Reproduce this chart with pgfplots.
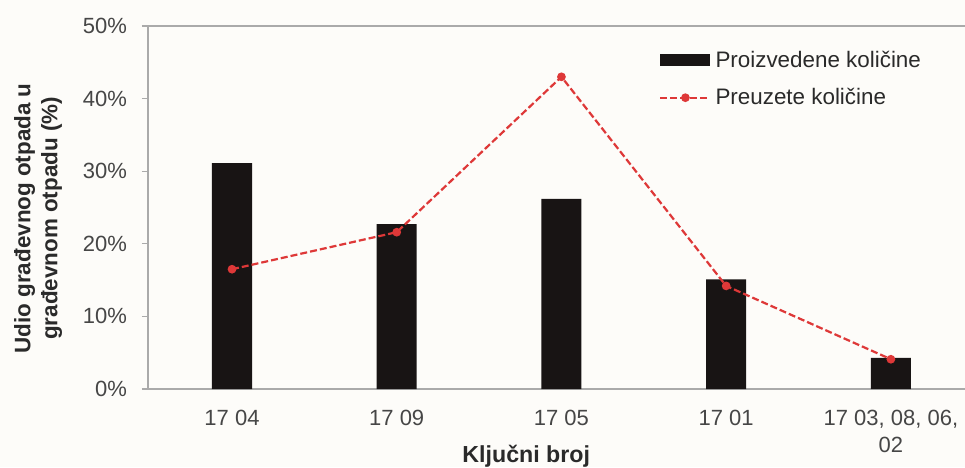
\documentclass[border=0pt]{standalone}
\usepackage{fontspec}
\setmainfont{Liberation Sans}
\usepackage{pgfplots}
\pgfplotsset{compat=1.18}

\definecolor{bg}{RGB}{253,252,249}
\definecolor{barcol}{RGB}{24,20,20}
\definecolor{linecol}{RGB}{222,56,56}
\definecolor{axgray}{RGB}{170,170,170}
\definecolor{txtgray}{RGB}{70,70,70}

\pgfplotsset{
    barlegend/.style={legend image code/.code={\fill[barcol] (0pt,-3pt) rectangle (25pt,3pt);}},
    linelegend/.style={legend image code/.code={\draw[mark repeat=2,mark phase=2,##1] plot coordinates {(0pt,0pt) (12.5pt,0pt) (25pt,0pt)};}},
}

\begin{document}
\begin{tikzpicture}
\fill[bg] (-74pt,-39pt) rectangle (408.5pt,194.5pt);
\begin{axis}[
    at={(0pt,0pt)}, anchor=south west,
    scale only axis,
    width=408.5pt, height=181.5pt,
    xmin=-0.51, xmax=4.45,
    ymin=0, ymax=50,
    axis lines*=left,
    axis line style={draw=none},
    xtick=data,
    xticklabels={17 04, 17 09, 17 05, 17 01, {17 03, 08, 06,\\02}},
    xticklabel style={align=center, font=\fontsize{11}{13.5}\selectfont, text=txtgray, yshift=-4pt},
    major x tick style={draw=none},
    ytick={0,10,...,50},
    yticklabel={\pgfmathprintnumber{\tick}\%},
    yticklabel style={font=\fontsize{11}{13}\selectfont, text=txtgray, xshift=-4pt},
    /pgf/number format/assume math mode=true,
    tick align=outside,
    major tick length=3pt,
    tick style={axgray, line width=0.6pt},
    xlabel={\textbf{Ključni broj}},
    xlabel style={at={(axis description cs:0.463,0)}, anchor=south, yshift=-42.5pt, font=\fontsize{11.6}{13}\selectfont, text=txtgray!60!black},
    ylabel={\textbf{Udio građevnog otpada u}\\\textbf{građevnom otpadu (\%)}},
    ylabel style={at={(axis description cs:-0.1346,0.47)}, anchor=center, align=center, font=\fontsize{11.2}{13.5}\selectfont, text=txtgray!60!black},
    legend style={at={(axis description cs:0.618,0.955)}, anchor=north west, draw=none, fill=none,
        font=\fontsize{11.2}{13}\selectfont, text=txtgray!60!black, row sep=5pt,
        /tikz/every even column/.append style={column sep=2pt}},
    legend cell align=left,
    clip=false,
]
% axis frame lines (left, bottom, top)
\draw[axgray, line width=0.6pt] (axis cs:-0.51,50) -- (axis cs:-0.51,0) -- (axis cs:4.45,0);
\draw[axgray, line width=0.6pt] (axis cs:-0.51,50) -- (axis cs:4.45,50);

\addplot[ybar, bar width=0.243, fill=barcol, draw=none, barlegend]
    coordinates {(0,31.1) (1,22.7) (2,26.2) (3,15.1) (4,4.3)};
\addlegendentry{Proizvedene količine}

\addplot[linecol, line width=1.1pt, dash pattern=on 3.5pt off 1.5pt,
    mark=*, mark size=1.6pt, mark options={solid, fill=linecol, draw=linecol}, linelegend]
    coordinates {(0,16.5) (1,21.6) (2,43.0) (3,14.2) (4,4.1)};
\addlegendentry{Preuzete količine}
\end{axis}
\pgfresetboundingbox
\path (-74pt,-39pt) rectangle (408.5pt,194.5pt);
\end{tikzpicture}
\end{document}
